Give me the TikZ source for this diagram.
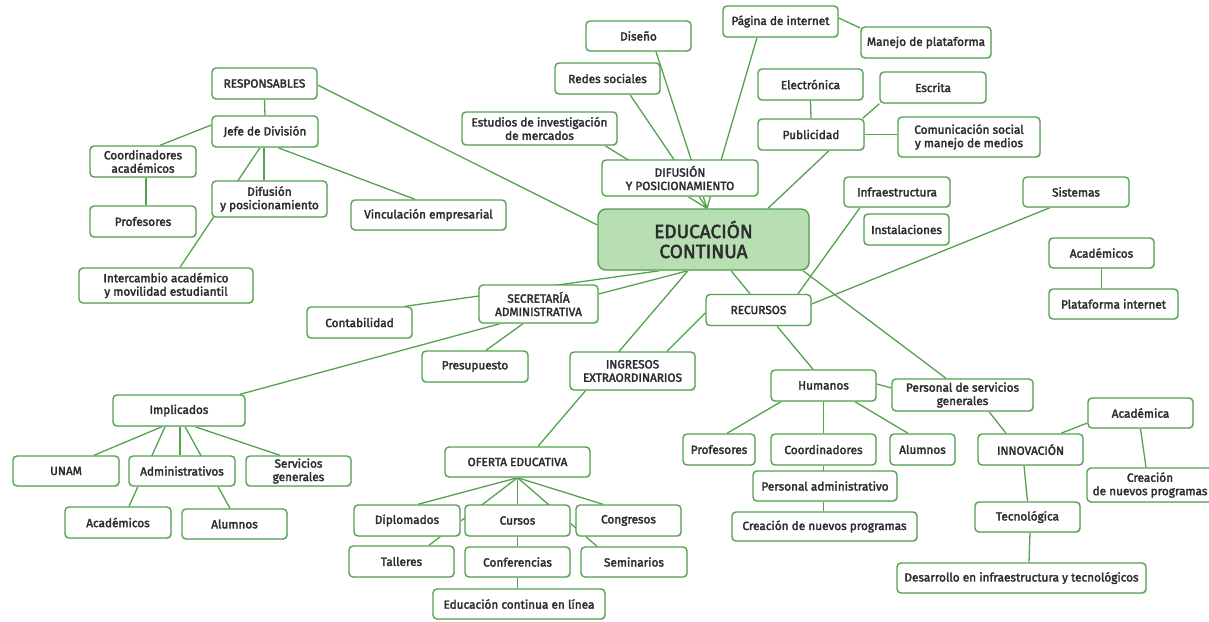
\documentclass[tikz,border=0pt]{standalone}
\usepackage{fontspec}
\setmainfont{Fira Sans}[FakeBold=2.5]
\usetikzlibrary{backgrounds,shadows}
\definecolor{gline}{RGB}{84,162,78}
\definecolor{gfill}{RGB}{184,222,180}
\definecolor{txt}{RGB}{45,45,45}
\tikzset{
  box/.style={draw=gline, line width=1.4pt, rounded corners=4pt, fill=white, text=txt,
    align=center, font=\fontsize{11.8}{13.4}\selectfont, inner sep=1pt,
    drop shadow={shadow xshift=0.9pt, shadow yshift=-0.9pt, fill=black!10, opacity=1}},
  mainbox/.style={box, fill=gfill, rounded corners=8pt, font=\fontsize{19}{20}\selectfont},
  link/.style={draw=gline, line width=1.3pt}
}
\newcommand{\bx}[6]{\node[box, minimum width=#4pt, minimum height=#5pt] (#1) at (#2,#3) {#6};}
\begin{document}
\begin{tikzpicture}[x=1pt, y=-1pt]
\useasboundingbox (0,0) rectangle (1209,621);
% central
\node[mainbox, minimum width=211pt, minimum height=61pt] (edu) at (703.5,239.5) {EDUCACIÓN\\CONTINUA};
% left cluster
\bx{resp}{264.5}{83.5}{105}{31}{RESPONSABLES}
\bx{jefe}{265}{131.5}{106}{31}{Jefe de División}
\bx{coordA}{143}{161.5}{106}{31}{Coordinadores\\académicos}
\bx{profA}{143}{221.5}{106}{31}{Profesores}
\bx{difL}{269.5}{199}{115}{36}{Difusión\\y posicionamiento}
\bx{vinc}{428.5}{215}{155}{30}{Vinculación empresarial}
\bx{inter}{166}{285.5}{174}{35}{Intercambio académico\\y movilidad estudiantil}
\bx{cont}{359.5}{322.5}{105}{31}{Contabilidad}
% top cluster
\bx{diseno}{638.5}{36}{105}{30}{Diseño}
\bx{pagina}{780.5}{21.5}{115}{31}{Página de internet}
\bx{redes}{607.5}{78.5}{105}{31}{Redes sociales}
\bx{estud}{539.5}{128.5}{155}{33}{Estudios de investigación\\de mercados}
\bx{difT}{680}{178}{156}{36}{DIFUSIÓN\\Y POSICIONAMIENTO}
\bx{manejo}{926}{42.5}{130}{31}{Manejo de plataforma}
\bx{electr}{810.5}{84.5}{105}{31}{Electrónica}
\bx{escrita}{933}{87.5}{106}{31}{Escrita}
\bx{public}{811}{134.5}{106}{31}{Publicidad}
\bx{comun}{969}{137}{142}{40}{Comunicación social\\y manejo de medios}
% right
\bx{infra}{897}{192}{106}{30}{Infraestructura}
\bx{instal}{906.5}{229.5}{85}{31}{Instalaciones}
\bx{sist}{1076}{192}{106}{30}{Sistemas}
\bx{acadR}{1101.5}{253}{105}{30}{Académicos}
\bx{plat}{1113.5}{304}{129}{30}{Plataforma internet}
% middle
\bx{secr}{538.5}{304}{119}{38}{SECRETARÍA\\ADMINISTRATIVA}
\bx{recur}{758.5}{310}{105}{31}{RECURSOS}
\bx{presu}{475}{366.5}{106}{31}{Presupuesto}
\bx{ingr}{632.5}{371}{125}{38}{INGRESOS\\EXTRAORDINARIOS}
\bx{ofer}{517.5}{462}{145}{30}{OFERTA EDUCATIVA}
\bx{dipl}{407}{520.5}{106}{31}{Diplomados}
\bx{curs}{517.5}{520.5}{105}{31}{Cursos}
\bx{congr}{628.5}{520.5}{105}{31}{Congresos}
\bx{tall}{401.5}{561.5}{105}{31}{Talleres}
\bx{conf}{517.5}{562}{105}{30}{Conferencias}
\bx{semi}{634}{562}{106}{30}{Seminarios}
\bx{linea}{519}{604}{172}{30}{Educación continua en línea}
% humanos cluster
\bx{hum}{823.5}{385.5}{105}{31}{Humanos}
\bx{persS}{962.5}{395}{141}{32}{Personal de servicios\\generales}
\bx{profB}{719}{449.5}{72}{31}{Profesores}
\bx{coordB}{823.5}{449.5}{105}{31}{Coordinadores}
\bx{alumB}{922.5}{449.5}{65}{31}{Alumnos}
\bx{persA}{825}{486}{144}{30}{Personal administrativo}
\bx{creaB}{824.5}{526.5}{185}{29}{Creación de nuevos programas}
\bx{innov}{1030.5}{449.5}{105}{31}{INNOVACIÓN}
\bx{acadm}{1140.5}{413}{105}{30}{Académica}
\bx{creaC}{1150}{485}{126}{34}{Creación\\de nuevos programas}
\bx{tecno}{1027.5}{517}{105}{30}{Tecnológica}
\bx{desa}{1021.5}{578}{249}{30}{Desarrollo en infraestructura y tecnológicos}
% implicados cluster
\bx{impl}{179}{410.5}{132}{31}{Implicados}
\bx{unam}{66}{471}{106}{30}{UNAM}
\bx{admin}{182}{471}{106}{30}{Administrativos}
\bx{serv}{298.5}{471}{105}{30}{Servicios\\generales}
\bx{acadL}{118}{522.5}{106}{31}{Académicos}
\bx{alumL}{234.5}{524}{105}{30}{Alumnos}
% connectors
\begin{scope}[on background layer]
\path[link] (resp.south) -- (jefe.north);
\path[link] ([yshift=-1.5pt]resp.east) -- ([yshift=14.5pt]edu.west);
\path[link] ([yshift=6.5pt]jefe.west) -- ([xshift=17pt]coordA.north);
\path[link] ([xshift=-1pt]jefe.south) -- ([xshift=-5.5pt]difL.north);
\path[link] ([xshift=-5pt]jefe.south) -- ([xshift=14pt]inter.north);
\path[link] ([xshift=13pt]jefe.south) -- ([xshift=-13.5pt]vinc.north);
\path[link] ([xshift=3pt]coordA.south) -- ([xshift=3pt]profA.north);
\coordinate (edutop) at ([xshift=3.5pt]edu.north);
\path[link] ([xshift=65.5pt]estud.south) -- (edutop);
\path[link] ([xshift=22.5pt]redes.south) -- (edutop);
\path[link] ([xshift=17.5pt]diseno.south) -- (edutop);
\path[link] ([xshift=-23.5pt]pagina.south) -- (edutop);
\path[link] ([yshift=3.5pt]pagina.east) -- ([yshift=14.5pt]manejo.west);
\path[link] (electr.south) -- (public.north);
\path[link] ([xshift=-2pt]public.north east) -- (escrita.south west);
\path[link] (public.east) -- (public.east -| comun.west);
\path[link] ([xshift=18pt]public.south) -- ([xshift=64.5pt]edu.north);
\path[link] ([xshift=-37pt]infra.south) -- ([xshift=39.5pt]recur.north);
\path[link] ([xshift=-26pt]sist.south) -- ([yshift=6pt]recur.east);
\path[link] ([xshift=99.5pt]edu.south) -- ([xshift=-16.5pt]persS.north);
\path[link] ([xshift=27.5pt]edu.south) -- ([xshift=-8.5pt]recur.north);
\path[link] ([xshift=-43.5pt]edu.south) -- ([xshift=45.5pt]cont.north);
\path[link] ([xshift=-15.5pt]edu.south) -- ([yshift=10pt]secr.east);
\path[link] ([xshift=-15.5pt]edu.south) -- ([xshift=20.5pt]ofer.north);
\path[link] ([xshift=34.5pt]ingr.north) -- ([yshift=-3pt]recur.west);
\path[link] ([xshift=-38.5pt]secr.south) -- ([xshift=61pt]impl.north);
\path[link] ([xshift=-15.5pt]secr.south) -- ([xshift=11pt]presu.north);
\path[link] (ofer.south) -- ([xshift=11pt]dipl.north);
\path[link] (ofer.south) -- ([xshift=27.5pt]tall.north);
\path[link] (ofer.south) -- (curs.north);
\path[link] (curs.south) -- (conf.north);
\path[link] (conf.south) -- (conf.south |- linea.north);
\path[link] (ofer.south) -- ([xshift=-37pt]semi.north);
\path[link] (ofer.south) -- ([xshift=-25.5pt]congr.north);
\path[link] ([xshift=18.5pt]recur.south) -- ([xshift=-10.5pt]hum.north);
\path[link] ([yshift=1.5pt]hum.east) -- ([yshift=7pt]persS.west);
\path[link] ([xshift=-42.5pt]hum.south) -- ([xshift=8pt]profB.north);
\path[link] (hum.south) -- (coordB.north);
\path[link] (coordB.south) -- (coordB.south |- creaB.north);
\path[link] ([xshift=31.5pt]hum.south) -- ([xshift=-14.5pt]alumB.north);
\path[link] ([xshift=26.5pt]persS.south) -- ([xshift=-24.5pt]innov.north);
\path[link] ([xshift=30.5pt]innov.north) -- ([yshift=-10pt]acadm.west);
\path[link] (acadm.south) -- ([xshift=-4pt]creaC.north);
\path[link] ([xshift=-6.5pt]innov.south) -- (tecno.north);
\path[link] ([xshift=2.5pt]tecno.south) -- ([xshift=7.5pt]desa.north);
\path[link] (acadR.south) -- (acadR.south |- plat.north);
\path[link] ([xshift=-17pt]impl.south) -- ([xshift=28pt]unam.north);
\path[link] ([xshift=1pt]impl.south) -- ([xshift=-2pt]admin.north);
\path[link] ([xshift=-14pt]impl.south) -- ([xshift=11pt]acadL.north);
\path[link] ([xshift=6pt]impl.south) -- ([xshift=-4.5pt]alumL.north);
\path[link] ([xshift=16pt]impl.south) -- ([xshift=-18.5pt]serv.north);
\end{scope}
\end{tikzpicture}
\end{document}
